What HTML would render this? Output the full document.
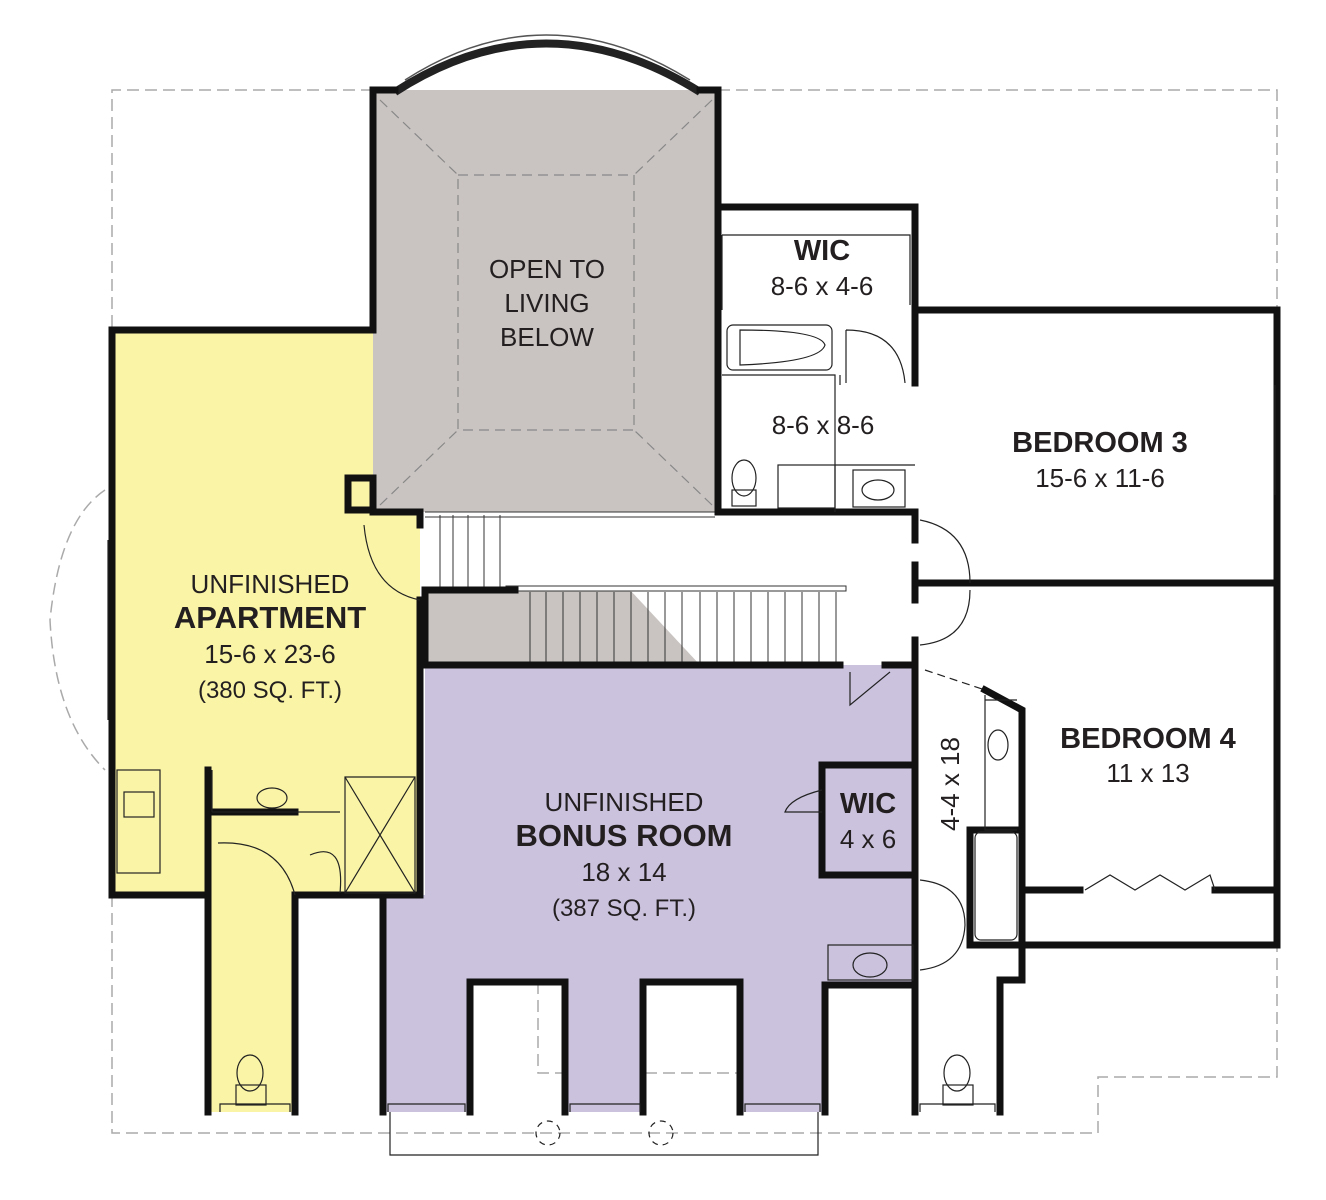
<!DOCTYPE html>
<html><head><meta charset="utf-8"><style>
html,body{margin:0;padding:0;background:#fff;}
svg{display:block;}
text{font-family:"Liberation Sans",sans-serif;fill:#231f20;text-anchor:middle;}
</style></head><body>
<svg width="1326" height="1200" viewBox="0 0 1326 1200" xmlns="http://www.w3.org/2000/svg">
<g fill="none" stroke="#aaa" stroke-width="1.5" stroke-dasharray="12,6">
<path d="M373 90 H112 V330"/>
<path d="M718 90 H1277 V315"/>
<path d="M112 895 V1133 H1098 V1077 H1277 V945"/>
<path d="M112 400 H373"/>
<path d="M538 982 V1073 H790 V1112"/>
<path d="M105 490 Q60 520 50 620 Q55 720 105 770"/>
</g>
<rect x="373" y="90" width="345" height="422" fill="#c9c4c2"/>
<path d="M112 330 H373 V512 H420 V895 H295 V1112 H208 V895 H112 Z" fill="#faf5a6"/>
<rect x="425" y="590" width="90" height="75" fill="#c9c4c2"/>
<path d="M515 590 H630 L700 665 H515 Z" fill="#c9c4c2"/>
<path d="M425 665 H915 V985 H825 V1112 H740 V982 H643 V1112 H565 V982 H470 V1112 H383 V895 H425 Z" fill="#cbc2de"/>
<path d="M395 92 Q545 -5 700 92" fill="none" stroke="#222" stroke-width="8"/>
<path d="M405 80 Q545 -10 690 80" fill="none" stroke="#555" stroke-width="1.5"/>
<g fill="none" stroke="#888" stroke-width="1.2" stroke-dasharray="10,6">
<rect x="458" y="175" width="176" height="255"/>
<path d="M380 100 L458 175 M712 100 L634 175 M380 505 L458 430 M712 505 L634 430"/>
</g>
<g stroke="#333" stroke-width="1">
<path d="M440 515 V588 M453 515 V588 M468 515 V588 M484 515 V588 M500 515 V588"/>
<path d="M530 592 V662 M546 592 V662 M563 592 V662 M580 592 V662 M597 592 V662 M614 592 V662 M631 592 V662 M648 592 V662 M665 592 V662 M682 592 V662 M700 592 V662 M717 592 V662 M734 592 V662 M751 592 V662 M768 592 V662 M785 592 V662 M802 592 V662 M819 592 V662 M836 592 V662"/>
<path d="M425 512 H715 M425 517 H715" />
<rect x="506" y="586" width="340" height="5" fill="#fff"/>
</g>
<g fill="none" stroke="#111" stroke-width="7" stroke-linecap="square">
<path d="M373 330 V90 H395 M700 90 H718 V512"/>
<path d="M718 207 H915 V310 H1277 V583"/>
<path d="M1277 583 V945"/>
<path d="M373 330 H112 V895 H208 V1112"/>
<path d="M295 1112 V895 H420 V770"/>
<path d="M420 770 V600 M420 512 V525 M373 512 H420"/>
<rect x="348" y="478" width="25" height="32"/>
<path d="M718 512 H915 V540 M915 310 V383"/>
<path d="M915 565 V600 M915 583 H1277"/>
<path d="M425 590 H515 M425 590 V665 H840"/>
<path d="M885 665 H915 V985 H825 V1112"/>
<path d="M383 895 V1112 M470 1112 V982 H565 V1112 M643 1112 V982 H740 V1112"/>
<path d="M208 770 V895 M208 812 H295"/>
<path d="M915 640 V700"/>
<path d="M822 765 H915 M822 765 V875 H915"/>
<path d="M915 985 V1112 M1000 1112 V980 H1022 V710 L985 690"/>
<path d="M970 830 H1022 M970 830 V945 H1022"/>
<path d="M1022 945 H1277 M1025 890 H1080 M1215 890 H1277"/>
<path d="M718 375 V512"/>
</g>
<g fill="none" stroke="#222" stroke-width="1.2">
<path d="M722 375 H835 V512 M835 465 H915 M840 375 V385 M722 235 H910 V305 M722 235 V310"/>
<rect x="727" y="325" width="105" height="45" rx="6"/>
<path d="M740 330 Q820 330 825 345 Q820 362 740 365 Z"/>
<ellipse cx="744" cy="478" rx="12" ry="18"/>
<rect x="732" y="490" width="24" height="16"/>
<rect x="778" y="465" width="57" height="43"/>
<rect x="853" y="470" width="52" height="37"/>
<ellipse cx="878" cy="490" rx="16" ry="10"/>
<path d="M846 330 Q900 330 905 383 M846 330 V383"/>
<path d="M920 520 Q970 530 970 583 M920 645 Q970 640 970 590"/>
<path d="M364 525 Q370 590 420 600"/>
<rect x="117" y="770" width="43" height="103"/>
<rect x="124" y="792" width="30" height="25"/>
<path d="M212 812 V770 M212 812 H340 M345 777 H415 V893 H345 Z M345 777 L415 893 M415 777 L345 893"/>
<ellipse cx="272" cy="798" rx="15" ry="10"/>
<path d="M218 843 Q280 840 295 895"/>
<path d="M310 855 Q345 840 340 893"/>
<ellipse cx="250" cy="1073" rx="13" ry="18"/>
<rect x="236" y="1085" width="30" height="20"/>
<path d="M850 672 V705 L890 672"/>
<path d="M822 790 Q790 798 785 812 L822 812"/>
<rect x="828" y="945" width="85" height="35"/>
<ellipse cx="870" cy="965" rx="17" ry="12"/>
<path d="M920 880 Q965 885 965 925 Q963 965 920 970"/>
<path d="M985 695 V830 H1017 M985 700 H1017"/>
<ellipse cx="998" cy="745" rx="10" ry="15"/>
<rect x="975" y="832" width="42" height="108" rx="6"/>
<ellipse cx="957" cy="1073" rx="13" ry="18"/>
<rect x="943" y="1085" width="30" height="20"/>
<path d="M925 670 L985 690" stroke-dasharray="8,5"/>
<path d="M1085 890 L1110 875 L1135 890 L1160 875 L1185 890 L1210 875 L1215 890"/>
<path d="M390 1112 V1155 H818 V1112"/>
<circle cx="548" cy="1133" r="12" stroke-dasharray="6,5"/>
<circle cx="661" cy="1133" r="12" stroke-dasharray="6,5"/>
<path d="M108 540 V720 M1275 385 V495 M1275 630 V690 M1275 800 V860"/>
<path d="M388 1112 V1104 H465 V1112 M570 1112 V1104 H640 V1112 M745 1112 V1104 H820 V1112 M220 1112 V1104 H290 V1112 M920 1112 V1104 H995 V1112"/>
</g>
<text x="547" y="278" font-size="26">OPEN TO</text>
<text x="547" y="312" font-size="26">LIVING</text>
<text x="547" y="346" font-size="26">BELOW</text>
<text x="822" y="260" font-size="29" font-weight="bold">WIC</text>
<text x="822" y="295" font-size="26">8-6 x 4-6</text>
<text x="823" y="434" font-size="26">8-6 x 8-6</text>
<text x="1100" y="452" font-size="29" font-weight="bold">BEDROOM 3</text>
<text x="1100" y="487" font-size="26">15-6 x 11-6</text>
<text x="1148" y="748" font-size="29" font-weight="bold">BEDROOM 4</text>
<text x="1148" y="782" font-size="26">11 x 13</text>
<text x="270" y="593" font-size="26">UNFINISHED</text>
<text x="270" y="628" font-size="31" font-weight="bold">APARTMENT</text>
<text x="270" y="663" font-size="26">15-6 x 23-6</text>
<text x="270" y="698" font-size="24">(380 SQ. FT.)</text>
<text x="624" y="811" font-size="26">UNFINISHED</text>
<text x="624" y="846" font-size="31" font-weight="bold">BONUS ROOM</text>
<text x="624" y="881" font-size="26">18 x 14</text>
<text x="624" y="916" font-size="24">(387 SQ. FT.)</text>
<text x="868" y="813" font-size="29" font-weight="bold">WIC</text>
<text x="868" y="848" font-size="26">4 x 6</text>
<text x="0" y="0" font-size="26" transform="translate(959,784) rotate(-90)">4-4 x 18</text>
</svg>
</body></html>
